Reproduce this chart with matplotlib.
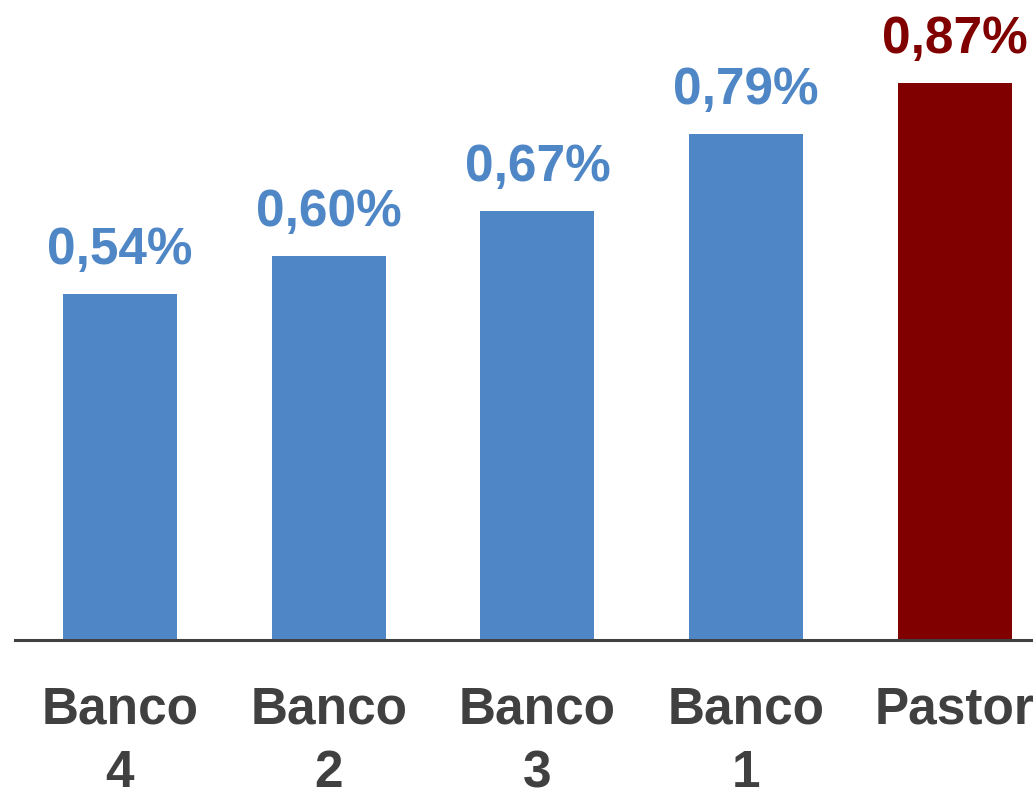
import matplotlib.pyplot as plt

# data
banks = ['Banco\n4', 'Banco\n2', 'Banco\n3', 'Banco\n1', 'Pastor']
values = [0.54, 0.60, 0.67, 0.79, 0.87]
labels = ['0,54%', '0,60%', '0,67%', '0,79%', '0,87%']
colors = ['#4F87C6', '#4F87C6', '#4F87C6', '#4F87C6', '#800000']

plt.rcParams['font.family'] = ['Liberation Sans', 'DejaVu Sans']

fig = plt.figure(figsize=(10.33, 7.89), dpi=100)
ax = fig.add_axes([0.0145, 0.1888, 0.9855, 0.8112])

x = range(len(banks))
bars = ax.bar(x, values, width=0.546, color=colors)

for xi, v, lab, c in zip(x, values, labels, colors):
    ax.annotate(lab, (xi, v), xytext=(0, 14), textcoords='offset points',
                ha='center', va='bottom', fontsize=37, fontweight='bold',
                color=c, annotation_clip=False)

ax.set_xlim(-0.503, 4.374)
ax.set_ylim(0, 1.0)
ax.set_xticks(list(x))
ax.set_xticklabels(banks, fontsize=37, fontweight='bold', color='#404040',
                   linespacing=1.38)
ax.tick_params(axis='x', length=0, pad=33)
ax.set_yticks([])

for s in ['top', 'right', 'left']:
    ax.spines[s].set_visible(False)
ax.spines['bottom'].set_color('#404040')
ax.spines['bottom'].set_linewidth(2.2)

fig.savefig('out.png', dpi=100)
